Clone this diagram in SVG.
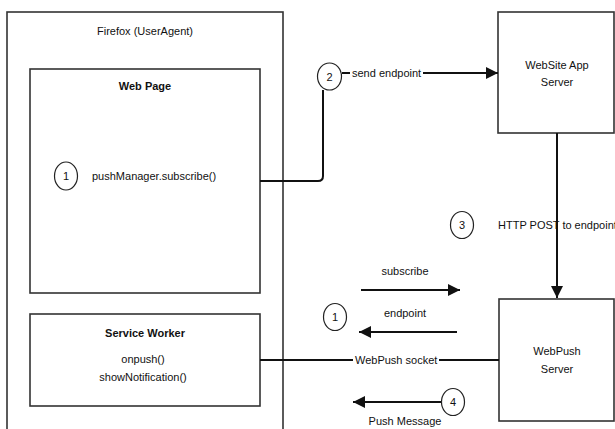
<svg xmlns="http://www.w3.org/2000/svg" width="615" height="429" viewBox="0 0 615 429">
<defs>
<style>
.box{fill:#fff;stroke:#333;stroke-width:1.6}
.t{font-family:"Liberation Sans",Arial,sans-serif;font-size:11px;fill:#111}
.b{font-weight:bold}
.m{text-anchor:middle}
.c{fill:#fff;stroke:#222;stroke-width:1.2}
.ln{fill:none;stroke:#111;stroke-width:2}
</style>
<marker id="ah" viewBox="0 0 12 12" refX="12" refY="6" markerWidth="12" markerHeight="12" markerUnits="userSpaceOnUse" orient="auto">
<path d="M0,0 L12,6 L0,12 Z" fill="#111"/>
</marker>
</defs>
<rect width="615" height="429" fill="#fff"/>
<g id="firefox">
<rect class="box" x="7" y="12" width="276" height="430"/>
<text class="t m" x="145" y="35">Firefox (UserAgent)</text>
</g>
<g id="webpage">
<rect class="box" x="30" y="69" width="230" height="224"/>
<text class="t b m" x="145" y="90">Web Page</text>
<ellipse class="c" cx="66" cy="176" rx="11.5" ry="14"/>
<text class="t m" x="66" y="180">1</text>
<text class="t" x="92" y="180">pushManager.subscribe()</text>
</g>
<g id="serviceworker">
<rect class="box" x="30" y="314" width="230" height="92"/>
<text class="t b m" x="145" y="337">Service Worker</text>
<text class="t m" x="143" y="363">onpush()</text>
<text class="t m" x="143" y="381">showNotification()</text>
</g>
<g id="website">
<rect class="box" x="498" y="12" width="116" height="121"/>
<text class="t m" x="557" y="69">WebSite App</text>
<text class="t m" x="557" y="86">Server</text>
</g>
<g id="webpush">
<rect class="box" x="499" y="299" width="115" height="122"/>
<text class="t m" x="557" y="355">WebPush</text>
<text class="t m" x="557" y="373">Server</text>
</g>
<g id="connectors">
<path class="ln" d="M260,181 H318 Q323,181 323,176 V90"/>
<ellipse class="c" cx="329.5" cy="76.5" rx="12" ry="13.5"/>
<text class="t m" x="329.5" y="81">2</text>
<path class="ln" d="M342,73 H350"/>
<text class="t" x="352" y="77">send endpoint</text>
<path class="ln" d="M423,73 H498" marker-end="url(#ah)"/>
<path class="ln" d="M557,133 V298" marker-end="url(#ah)"/>
<rect x="497" y="216" width="118" height="14" fill="#fff" opacity="0"/>
<text class="t" x="498" y="229">HTTP POST to endpoint</text>
<path class="ln" d="M557,214 V232"/>
<ellipse class="c" cx="462" cy="225" rx="11.5" ry="13.5"/>
<text class="t m" x="462" y="229">3</text>
<text class="t m" x="405" y="275">subscribe</text>
<path class="ln" d="M361,290 H460" marker-end="url(#ah)"/>
<text class="t m" x="405" y="317">endpoint</text>
<path class="ln" d="M457,332 H359" marker-end="url(#ah)"/>
<ellipse class="c" cx="335" cy="317" rx="11.5" ry="13.5"/>
<text class="t m" x="335" y="321">1</text>
<path class="ln" d="M260,360 H353 M439,360 H499"/>
<text class="t" x="355" y="364">WebPush socket</text>
<path class="ln" d="M442,402 H353" marker-end="url(#ah)"/>
<ellipse class="c" cx="453" cy="402" rx="11.5" ry="13.5"/>
<text class="t m" x="453" y="406">4</text>
<text class="t m" x="405" y="425">Push Message</text>
</g>
</svg>
